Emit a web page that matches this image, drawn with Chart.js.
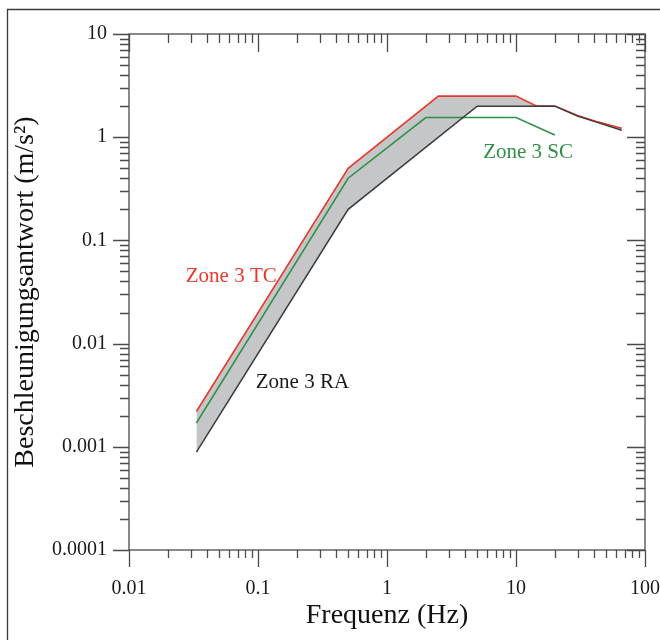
<!DOCTYPE html>
<html>
<head>
<meta charset="utf-8">
<script src="https://cdn.jsdelivr.net/npm/chart.js@4"></script>
<style>
  html, body { margin: 0; padding: 0; background: #fff; }
  #wrap { width: 660px; height: 640px; }
</style>
</head>
<body>
<div id="wrap"><canvas id="chart" width="660" height="640"></canvas></div>
<script>
// Frequenzen (Hz) und Beschleunigungen (m/s²) der drei Kurven
const freqTC = [0.0333, 0.5, 2.5, 10, 14.5, 20, 30, 42, 66];
const accTC  = [0.0022, 0.5, 2.5, 2.5, 2.0, 2.0, 1.62, 1.42, 1.22];

const freqSC = [0.0333, 0.5, 2, 10, 20];
const accSC  = [0.0017, 0.4, 1.55, 1.55, 1.05];

const freqRA = [0.0333, 0.5, 5, 20, 30, 42, 66];
const accRA  = [0.00089, 0.2, 2.0, 2.0, 1.6, 1.4, 1.17];

const xTickValues = [0.01, 0.1, 1, 10, 100];
const xTickLabels = ['0.01', '0.1', '1', '10', '100'];
const yTickValues = [0.0001, 0.001, 0.01, 0.1, 1, 10];
const yTickLabels = ['0.0001', '0.001', '0.01', '0.1', '1', '10'];

const toPoints = (xs, ys) => xs.map((x, i) => ({ x: x, y: ys[i] }));

const serif = "'Liberation Serif', 'DejaVu Serif', serif";

// Beschriftungen der Zonen, in Datenkoordinaten verankert
const zoneLabels = [
    { text: 'Zone 3 TC', x: 0.062, y: 0.045, color: '#e8392c' },
    { text: 'Zone 3 SC', x: 12.4, y: 0.71, color: '#2f8f45' },
    { text: 'Zone 3 RA', x: 0.221, y: 0.0042, color: '#1a1a1a' }
];

// Rahmen, Achsenkasten, Teilstriche und Zonenbeschriftungen
const axisDecor = {
    id: 'axisDecor',
    beforeDraw(chart) {
        const ctx = chart.ctx;
        ctx.save();
        ctx.strokeStyle = '#3a3a3a';
        ctx.lineWidth = 1.3;
        ctx.beginPath();
        ctx.moveTo(7.5, chart.height);
        ctx.lineTo(7.5, 9.5);
        ctx.lineTo(chart.width, 9.5);
        ctx.stroke();
        ctx.restore();
    },
    afterDatasetsDraw(chart) {
        const ctx = chart.ctx;
        const { left, right, top, bottom } = chart.chartArea;
        const xs = chart.scales.x;
        const ys = chart.scales.y;
        ctx.save();
        ctx.strokeStyle = '#4a4a4a';
        ctx.lineWidth = 1.3;
        ctx.strokeRect(left, top, right - left, bottom - top);

        ctx.beginPath();
        // x-Achse: unten nach aussen, oben nach innen
        for (let d = 0.01; d < 100; d *= 10) {
            for (let k = 1; k <= 10; k++) {
                const v = d * k;
                if (v > 100.0001) break;
                const px = Math.round(xs.getPixelForValue(v)) + 0.5;
                const major = (k === 1 || k === 10);
                const lenOut = major ? 17 : 8;
                const lenIn = major ? 18 : 9;
                ctx.moveTo(px, bottom);
                ctx.lineTo(px, bottom + lenOut);
                ctx.moveTo(px, top);
                ctx.lineTo(px, top + lenIn);
            }
        }
        // y-Achse: links nach aussen, rechts nach innen
        for (let d = 0.0001; d < 10; d *= 10) {
            for (let k = 1; k <= 10; k++) {
                const v = d * k;
                if (v > 10.0001) break;
                const py = Math.round(ys.getPixelForValue(v)) + 0.5;
                const major = (k === 1 || k === 10);
                const lenOut = major ? 16 : 9;
                const lenIn = major ? 18 : 9;
                ctx.moveTo(left, py);
                ctx.lineTo(left - lenOut, py);
                ctx.moveTo(right, py);
                ctx.lineTo(right - lenIn, py);
            }
        }
        ctx.stroke();

        ctx.font = '21px ' + serif;
        ctx.textAlign = 'center';
        ctx.textBaseline = 'middle';
        zoneLabels.forEach(l => {
            ctx.fillStyle = l.color;
            ctx.fillText(l.text, xs.getPixelForValue(l.x), ys.getPixelForValue(l.y));
        });
        ctx.restore();
    }
};

const noPad = s => {
    s.paddingLeft = 0;
    s.paddingRight = 0;
    s.paddingTop = 0;
    s.paddingBottom = 0;
};

const ctx = document.getElementById('chart').getContext('2d');
new Chart(ctx, {
    type: 'line',
    data: {
        datasets: [
            {
                label: 'Zone 3 RA',
                data: toPoints(freqRA, accRA),
                borderColor: '#3a3a3a',
                borderWidth: 1.5,
                pointRadius: 0,
                fill: false
            },
            {
                label: 'Zone 3 SC',
                data: toPoints(freqSC, accSC),
                borderColor: '#2f8f45',
                borderWidth: 1.5,
                pointRadius: 0,
                fill: false
            },
            {
                label: 'Zone 3 TC',
                data: toPoints(freqTC, accTC),
                borderColor: '#e8392c',
                borderWidth: 1.6,
                pointRadius: 0,
                backgroundColor: '#c4c6c8',
                fill: 0
            }
        ]
    },
    options: {
        responsive: false,
        animation: false,
        layout: { padding: { left: 0, top: 34, right: 15, bottom: 0 } },
        plugins: {
            legend: { display: false },
            tooltip: { enabled: false }
        },
        scales: {
            x: {
                type: 'logarithmic',
                min: 0.01,
                max: 100,
                grid: { display: false, drawTicks: false },
                border: { display: false },
                afterBuildTicks: s => { s.ticks = xTickValues.map(v => ({ value: v })); },
                afterFit: s => { s.height = 90; noPad(s); },
                ticks: {
                    autoSkip: false,
                    maxRotation: 0,
                    padding: 27,
                    color: '#1a1a1a',
                    font: { family: serif, size: 20 },
                    callback: (v, i) => xTickLabels[i]
                },
                title: {
                    display: true,
                    text: 'Frequenz (Hz)',
                    color: '#111',
                    font: { family: serif, size: 28 },
                    padding: { top: 0, bottom: 8 }
                }
            },
            y: {
                type: 'logarithmic',
                min: 0.0001,
                max: 10,
                grid: { display: false, drawTicks: false },
                border: { display: false },
                afterBuildTicks: s => { s.ticks = yTickValues.map(v => ({ value: v })); },
                afterFit: s => { s.width = 129; noPad(s); },
                ticks: {
                    autoSkip: false,
                    padding: 22,
                    color: '#1a1a1a',
                    font: { family: serif, size: 20 },
                    callback: (v, i) => yTickLabels[i]
                },
                title: {
                    display: true,
                    text: 'Beschleunigungsantwort (m/s²)',
                    color: '#111',
                    font: { family: serif, size: 28 },
                    padding: { top: 9, bottom: 0 }
                }
            }
        }
    },
    plugins: [axisDecor]
});
</script>
</body>
</html>
